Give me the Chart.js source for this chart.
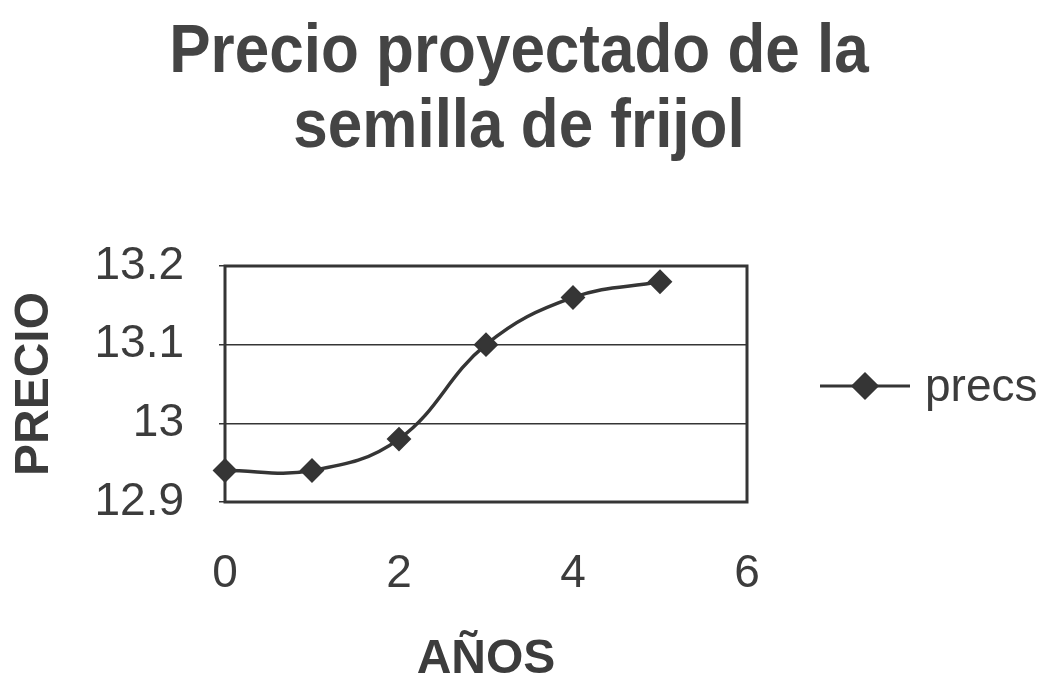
<!DOCTYPE html>
<html>
<head>
<meta charset="utf-8">
<title>Precio proyectado de la semilla de frijol</title>
<script src="https://cdn.jsdelivr.net/npm/chart.js@4/dist/chart.umd.min.js"></script>
<style>
  html, body { margin: 0; padding: 0; background: #ffffff; }
  #wrap { width: 1047px; height: 675px; }
</style>
</head>
<body>
<div id="wrap"><canvas id="c" width="1047" height="675"></canvas></div>
<script>
// Años y precio proyectado de la semilla
const years = [0, 1, 2, 3, 4, 5];
const prices = [12.94, 12.94, 12.98, 13.10, 13.16, 13.18];
const seriesName = 'precs';
const titleLines = ['Precio proyectado de la', 'semilla de frijol'];
const xTitle = 'AÑOS';
const yTitle = 'PRECIO';

const INK = '#353535';
const TEXT = '#3c3c3c';
const FAMILY = '"Liberation Sans", Arial, Helvetica, sans-serif';

// Two-line heading, centred over the chart and its legend, slightly tall lettering
const heading = {
  id: 'heading',
  afterDraw(chart) {
    const { ctx } = chart;
    const cx = 519;
    const baselines = [72, 147];
    ctx.save();
    ctx.fillStyle = '#444444';
    ctx.font = 'bold 62px ' + FAMILY;
    ctx.textAlign = 'center';
    ctx.textBaseline = 'alphabetic';
    titleLines.forEach((line, i) => {
      ctx.save();
      ctx.translate(cx, baselines[i]);
      ctx.scale(1, 1.12);
      ctx.fillText(line, 0, 0);
      ctx.restore();
    });
    ctx.restore();
  }
};

// Frame around the plotting area, drawn under the series
const plotFrame = {
  id: 'plotFrame',
  beforeDatasetsDraw(chart) {
    const { ctx, chartArea: a } = chart;
    ctx.save();
    ctx.strokeStyle = INK;
    ctx.lineWidth = 3;
    ctx.strokeRect(a.left, a.top, a.right - a.left, a.bottom - a.top);
    ctx.restore();
  }
};

// Legend entry: line segment with the series marker and its name
const sideLegend = {
  id: 'sideLegend',
  afterDraw(chart) {
    const ds = chart.data.datasets[0];
    const { ctx } = chart;
    const y = 386, x0 = 820, x1 = 910, xm = (x0 + x1) / 2;
    ctx.save();
    ctx.strokeStyle = ds.borderColor;
    ctx.lineWidth = 3;
    ctx.beginPath();
    ctx.moveTo(x0, y);
    ctx.lineTo(x1, y);
    ctx.stroke();
    Chart.helpers.drawPoint(ctx, {
      pointStyle: 'rectRot', radius: 12, borderWidth: 1
    }, xm, y);
    ctx.fillStyle = ds.pointBackgroundColor;
    ctx.fill();
    ctx.fillStyle = TEXT;
    ctx.font = '46px ' + FAMILY;
    ctx.textBaseline = 'middle';
    ctx.textAlign = 'left';
    ctx.fillText(ds.label, 925, y + 2);
    ctx.restore();
  }
};

new Chart(document.getElementById('c'), {
  type: 'line',
  data: {
    datasets: [{
      label: seriesName,
      data: years.map((x, i) => ({ x: x, y: prices[i] })),
      borderColor: INK,
      borderWidth: 3.5,
      tension: 0.4,
      pointStyle: 'rectRot',
      pointRadius: 11,
      pointBorderWidth: 2,
      pointBackgroundColor: INK,
      pointBorderColor: INK,
      clip: false
    }]
  },
  options: {
    responsive: false,
    animation: false,
    devicePixelRatio: 1,
    layout: { padding: { left: 0, right: 300, top: 266, bottom: 0 } },
    plugins: {
      legend: { display: false },
      tooltip: { enabled: false },
      title: { display: false }
    },
    scales: {
      x: {
        type: 'linear',
        min: 0,
        max: 6,
        afterFit(scale) { scale.height = 173; },
        ticks: {
          stepSize: 2,
          color: TEXT,
          padding: 37,
          font: { family: FAMILY, size: 46 }
        },
        grid: { display: false },
        border: { display: false },
        title: {
          display: true,
          text: xTitle,
          color: TEXT,
          padding: { top: 0, bottom: 0 },
          font: { family: FAMILY, size: 48, weight: 'bold', lineHeight: 0.625 }
        }
      },
      y: {
        min: 12.9,
        max: 13.2,
        afterFit(scale) { scale.width = 225; },
        ticks: {
          stepSize: 0.1,
          color: TEXT,
          padding: 35,
          font: { family: FAMILY, size: 46 },
          callback: (v) => String(Math.round(v * 10) / 10)
        },
        grid: {
          color: INK,
          lineWidth: 1.5,
          drawTicks: true,
          tickLength: 6
        },
        border: { display: false },
        title: {
          display: true,
          text: yTitle,
          color: TEXT,
          padding: { top: 6, bottom: 0 },
          font: { family: FAMILY, size: 48, weight: 'bold', lineHeight: 1.2 }
        }
      }
    }
  },
  plugins: [plotFrame, sideLegend, heading]
});
</script>
</body>
</html>
